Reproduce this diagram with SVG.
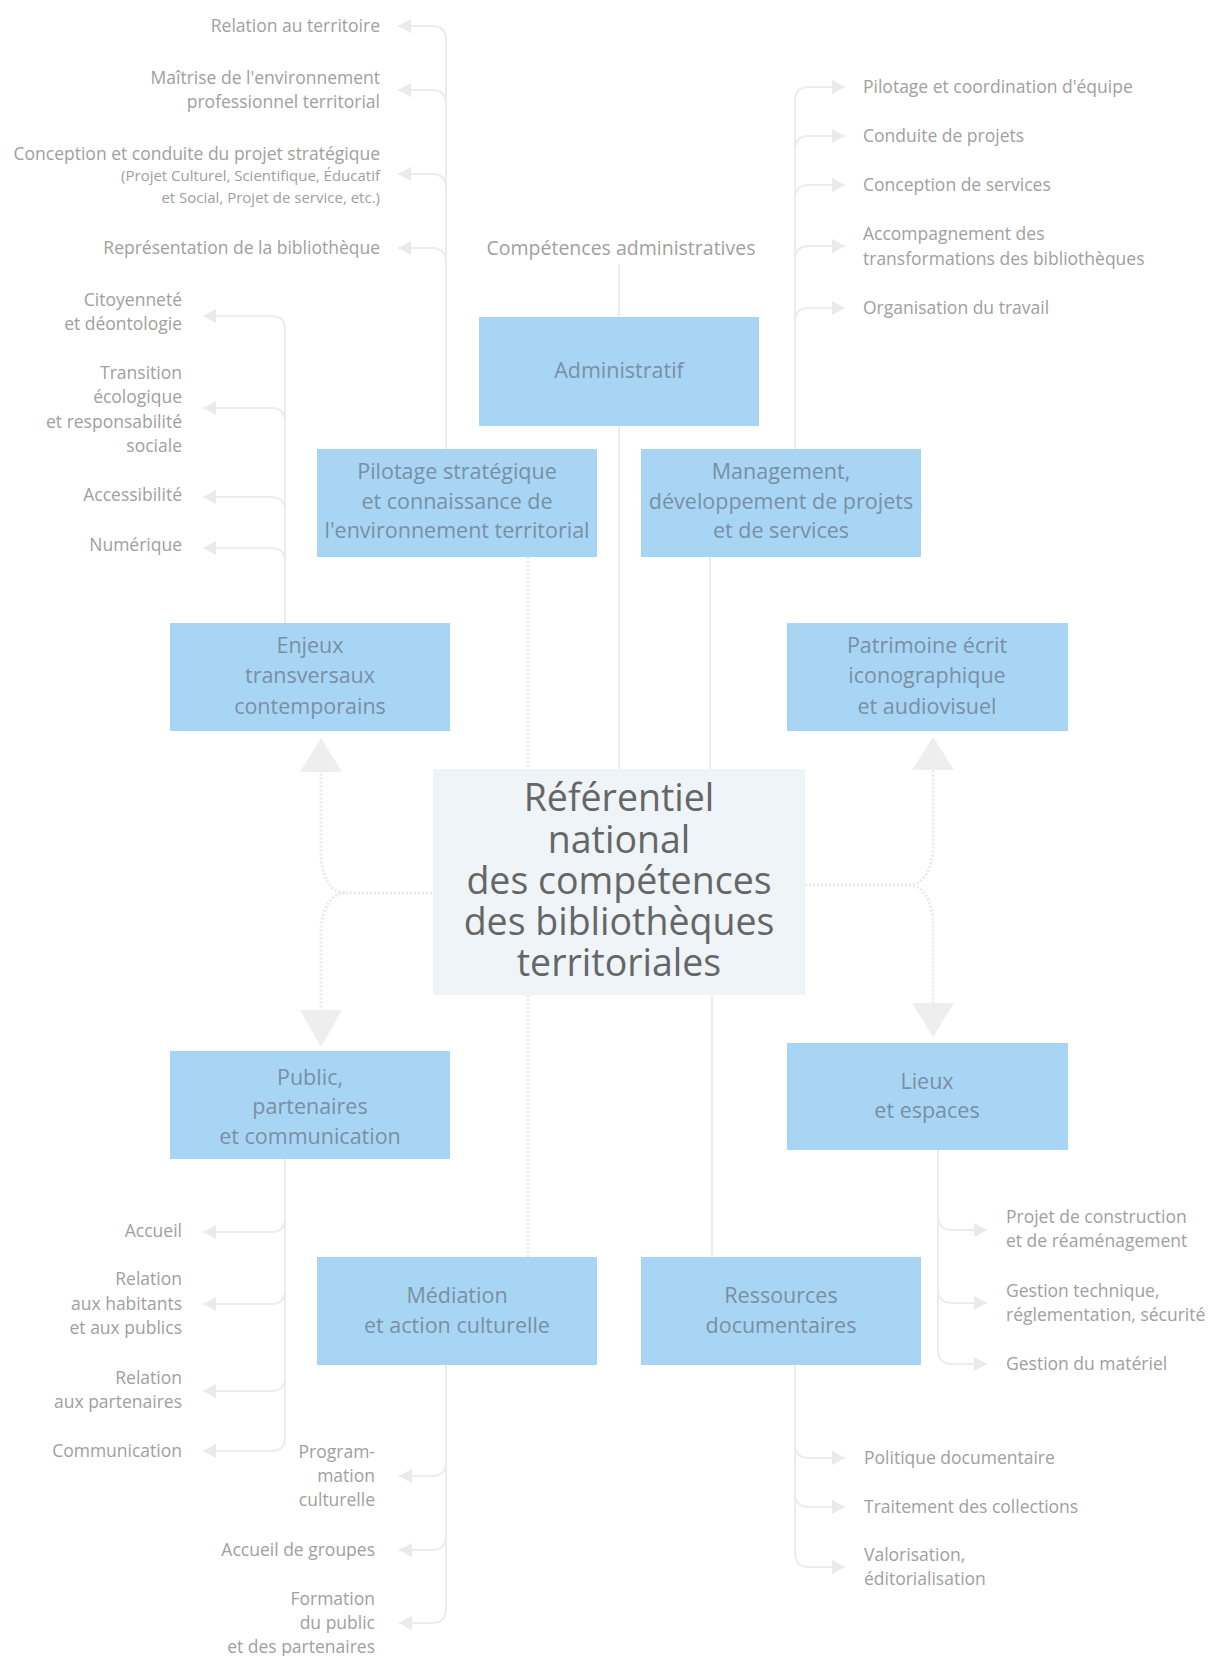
<svg xmlns="http://www.w3.org/2000/svg" width="1215" height="1656" viewBox="0 0 1215 1656">
<defs>
<style>
.box{fill:#a9d5f4}
.bt{font-family:"Open Sans","Noto Sans",sans-serif;font-size:21.5px;fill:#7890a5;text-anchor:middle}
.ct{font-family:"Open Sans","Noto Sans",sans-serif;font-size:37.5px;fill:#666666;text-anchor:middle}
.lt{font-family:"Open Sans","Noto Sans",sans-serif;font-size:17.5px;fill:#a0a0a0}
.st{font-family:"Open Sans","Noto Sans",sans-serif;font-size:15px;fill:#a0a0a0}
.e{text-anchor:end}
.trunk{fill:none;stroke:#ececec;stroke-width:2}
.br{fill:none;stroke:#ececec;stroke-width:2;marker-end:url(#ah)}
.dot{fill:none;stroke:#e9e9e9;stroke-width:3;stroke-dasharray:2 2}
.big{fill:#eeeeee}
</style>
<marker id="ah" markerUnits="userSpaceOnUse" markerWidth="14" markerHeight="14" refX="13" refY="7" orient="auto">
<path d="M0,0 L13,7 L0,14 z" fill="#eaeaea"/>
</marker>
</defs>
<rect width="1215" height="1656" fill="#ffffff"/>

<g id="connectors">
<!-- top-left (Pilotage) -->
<path class="trunk" d="M446,449 L446,40"/>
<path class="br" d="M446,40 Q446,26 432,26 L398,26"/>
<path class="br" d="M446,104 Q446,90 432,90 L398,90"/>
<path class="br" d="M446,188 Q446,174 432,174 L398,174"/>
<path class="br" d="M446,262 Q446,248 432,248 L398,248"/>
<!-- top-right (Management) -->
<path class="trunk" d="M795,449 L795,101"/>
<path class="br" d="M795,101 Q795,87 809,87 L845,87"/>
<path class="br" d="M795,150 Q795,136 809,136 L845,136"/>
<path class="br" d="M795,199 Q795,185 809,185 L845,185"/>
<path class="br" d="M795,260 Q795,246 809,246 L845,246"/>
<path class="br" d="M795,322 Q795,308 809,308 L845,308"/>
<!-- Enjeux -->
<path class="trunk" d="M285,623 L285,330"/>
<path class="br" d="M285,330 Q285,316 271,316 L203,316"/>
<path class="br" d="M285,422 Q285,408 271,408 L203,408"/>
<path class="br" d="M285,511 Q285,497 271,497 L203,497"/>
<path class="br" d="M285,562 Q285,548 271,548 L203,548"/>
<!-- Public -->
<path class="trunk" d="M285,1159 L285,1437"/>
<path class="br" d="M285,1218 Q285,1232 271,1232 L203,1232"/>
<path class="br" d="M285,1290 Q285,1304 271,1304 L203,1304"/>
<path class="br" d="M285,1377 Q285,1391 271,1391 L203,1391"/>
<path class="br" d="M285,1437 Q285,1451 271,1451 L203,1451"/>
<!-- Mediation -->
<path class="trunk" d="M446,1365 L446,1609"/>
<path class="br" d="M446,1462 Q446,1476 432,1476 L399,1476"/>
<path class="br" d="M446,1536 Q446,1550 432,1550 L399,1550"/>
<path class="br" d="M446,1609 Q446,1623 432,1623 L399,1623"/>
<!-- Lieux -->
<path class="trunk" d="M938,1150 L938,1350"/>
<path class="br" d="M938,1216 Q938,1230 952,1230 L987,1230"/>
<path class="br" d="M938,1289 Q938,1303 952,1303 L987,1303"/>
<path class="br" d="M938,1350 Q938,1364 952,1364 L987,1364"/>
<!-- Ressources -->
<path class="trunk" d="M795,1365 L795,1553"/>
<path class="br" d="M795,1444 Q795,1458 809,1458 L845,1458"/>
<path class="br" d="M795,1493 Q795,1507 809,1507 L845,1507"/>
<path class="br" d="M795,1553 Q795,1567 809,1567 L845,1567"/>
<!-- Competences administratives to Administratif -->
<path class="trunk" d="M619,264 L619,317"/>
<!-- boxes to central -->
<path class="dot" d="M528,557 L528,769"/>
<path class="trunk" d="M619,426 L619,769"/>
<path class="trunk" d="M710,557 L710,769"/>
<path class="dot" d="M528,995 L528,1257"/>
<path class="trunk" d="M712,995 L712,1257"/>
<!-- central to left side -->
<path class="dot" d="M432,893 L345,893 C330,893 321,875 321,853 L321,772"/>
<path class="dot" d="M345,893 C330,893 321,911 321,933 L321,1010"/>
<polygon class="big" points="321,738 342,772 300,772"/>
<polygon class="big" points="300,1010 342,1010 321,1047"/>
<!-- central to right side -->
<path class="dot" d="M805,885 L909,885 C924,885 933,867 933,845 L933,770"/>
<path class="dot" d="M909,885 C924,885 933,903 933,925 L933,1003"/>
<polygon class="big" points="933,737 954,770 912,770"/>
<polygon class="big" points="912,1003 954,1003 933,1037"/>
</g>

<g id="central">
<rect x="433" y="769" width="372" height="226" fill="#eff4f8"/>
<text class="ct" x="619" y="811">Référentiel</text>
<text class="ct" x="619" y="853">national</text>
<text class="ct" x="619" y="894">des compétences</text>
<text class="ct" x="619" y="935">des bibliothèques</text>
<text class="ct" x="619" y="976">territoriales</text>
</g>

<g id="administratif">
<rect class="box" x="479" y="317" width="280" height="109"/>
<text class="bt" x="619" y="378">Administratif</text>
</g>
<g id="pilotage">
<rect class="box" x="317" y="449" width="280" height="108"/>
<text class="bt" x="457" y="479">Pilotage stratégique</text>
<text class="bt" x="457" y="509">et connaissance de</text>
<text class="bt" x="457" y="538">l'environnement territorial</text>
</g>
<g id="management">
<rect class="box" x="641" y="449" width="280" height="108"/>
<text class="bt" x="781" y="479">Management,</text>
<text class="bt" x="781" y="509">développement de projets</text>
<text class="bt" x="781" y="538">et de services</text>
</g>
<g id="enjeux">
<rect class="box" x="170" y="623" width="280" height="108"/>
<text class="bt" x="310" y="653">Enjeux</text>
<text class="bt" x="310" y="683">transversaux</text>
<text class="bt" x="310" y="714">contemporains</text>
</g>
<g id="patrimoine">
<rect class="box" x="787" y="623" width="281" height="108"/>
<text class="bt" x="927" y="653">Patrimoine écrit</text>
<text class="bt" x="927" y="683">iconographique</text>
<text class="bt" x="927" y="714">et audiovisuel</text>
</g>
<g id="public">
<rect class="box" x="170" y="1051" width="280" height="108"/>
<text class="bt" x="310" y="1085">Public,</text>
<text class="bt" x="310" y="1114">partenaires</text>
<text class="bt" x="310" y="1144">et communication</text>
</g>
<g id="lieux">
<rect class="box" x="787" y="1043" width="281" height="107"/>
<text class="bt" x="927" y="1089">Lieux</text>
<text class="bt" x="927" y="1118">et espaces</text>
</g>
<g id="mediation">
<rect class="box" x="317" y="1257" width="280" height="108"/>
<text class="bt" x="457" y="1303">Médiation</text>
<text class="bt" x="457" y="1333">et action culturelle</text>
</g>
<g id="ressources">
<rect class="box" x="641" y="1257" width="280" height="108"/>
<text class="bt" x="781" y="1303">Ressources</text>
<text class="bt" x="781" y="1333">documentaires</text>
</g>

<g id="labels-top-left">
<text class="lt e" x="380" y="32">Relation au territoire</text>
<text class="lt e" x="380" y="84">Maîtrise de l'environnement</text>
<text class="lt e" x="380" y="108">professionnel territorial</text>
<text class="lt e" x="380" y="160">Conception et conduite du projet stratégique</text>
<text class="st e" x="380" y="181">(Projet Culturel, Scientifique, Éducatif</text>
<text class="st e" x="380" y="203">et Social, Projet de service, etc.)</text>
<text class="lt e" x="380" y="254">Représentation de la bibliothèque</text>
</g>
<g id="competences-administratives">
<text class="lt" x="621" y="255" style="font-size:19.5px;text-anchor:middle">Compétences administratives</text>
</g>
<g id="labels-top-right">
<text class="lt" x="863" y="93">Pilotage et coordination d'équipe</text>
<text class="lt" x="863" y="142">Conduite de projets</text>
<text class="lt" x="863" y="191">Conception de services</text>
<text class="lt" x="863" y="240">Accompagnement des</text>
<text class="lt" x="863" y="265">transformations des bibliothèques</text>
<text class="lt" x="863" y="314">Organisation du travail</text>
</g>
<g id="labels-enjeux">
<text class="lt e" x="182" y="306">Citoyenneté</text>
<text class="lt e" x="182" y="330">et déontologie</text>
<text class="lt e" x="182" y="379">Transition</text>
<text class="lt e" x="182" y="403">écologique</text>
<text class="lt e" x="182" y="428">et responsabilité</text>
<text class="lt e" x="182" y="452">sociale</text>
<text class="lt e" x="182" y="501">Accessibilité</text>
<text class="lt e" x="182" y="551">Numérique</text>
</g>
<g id="labels-public">
<text class="lt e" x="182" y="1237">Accueil</text>
<text class="lt e" x="182" y="1285">Relation</text>
<text class="lt e" x="182" y="1310">aux habitants</text>
<text class="lt e" x="182" y="1334">et aux publics</text>
<text class="lt e" x="182" y="1384">Relation</text>
<text class="lt e" x="182" y="1408">aux partenaires</text>
<text class="lt e" x="182" y="1457">Communication</text>
</g>
<g id="labels-mediation">
<text class="lt e" x="375" y="1458">Program-</text>
<text class="lt e" x="375" y="1482">mation</text>
<text class="lt e" x="375" y="1506">culturelle</text>
<text class="lt e" x="375" y="1556">Accueil de groupes</text>
<text class="lt e" x="375" y="1605">Formation</text>
<text class="lt e" x="375" y="1629">du public</text>
<text class="lt e" x="375" y="1653">et des partenaires</text>
</g>
<g id="labels-lieux">
<text class="lt" x="1006" y="1223">Projet de construction</text>
<text class="lt" x="1006" y="1247">et de réaménagement</text>
<text class="lt" x="1006" y="1297">Gestion technique,</text>
<text class="lt" x="1006" y="1321">réglementation, sécurité</text>
<text class="lt" x="1006" y="1370">Gestion du matériel</text>
</g>
<g id="labels-ressources">
<text class="lt" x="864" y="1464">Politique documentaire</text>
<text class="lt" x="864" y="1513">Traitement des collections</text>
<text class="lt" x="864" y="1561">Valorisation,</text>
<text class="lt" x="864" y="1585">éditorialisation</text>
</g>
</svg>
